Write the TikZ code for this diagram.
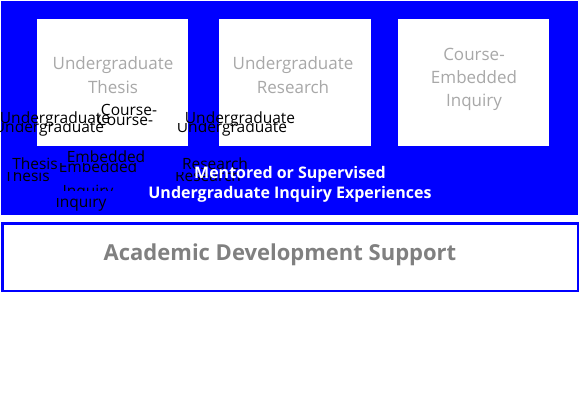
\documentclass[tikz,border=0pt]{standalone}
\usepackage{fontspec}
\setmainfont{Open Sans}
\definecolor{bgblue}{HTML}{0000FF}
\definecolor{lblgray}{HTML}{A8A8A8}
\definecolor{subgray}{HTML}{808080}
\tikzset{
  panel/.style={fill=white, draw=none, inner sep=0pt, outer sep=0pt},
  lbl/.style={font=\fontsize{15.5}{18}\selectfont, text=black, inner sep=0pt, anchor=base},
  boxtxt/.style={font=\fontsize{17}{24}\selectfont, text=lblgray, align=center, inner sep=0pt},
  titletxt/.style={font=\bfseries\fontsize{16}{20}\selectfont, text=white, inner sep=0pt, anchor=base},
}
% #1 name, #2 x, #3 baseline y, #4 shift left of copy b, #5 shift down of copy b, #6 a-clip below baseline, #7 text
\newcommand{\twinlabel}[7]{%
  \begin{scope}
    \clip (#2-90,#3-22) rectangle (#2+90,#3+#6);
    \node[lbl] (#1a) at (#2,#3) {#7};
  \end{scope}
  \begin{scope}
    \clip (#2-90,#3+#5-9) rectangle (#2+90,#3+#5+6);
    \node[lbl] (#1b) at (#2-#4,#3+#5) {#7};
  \end{scope}}
\begin{document}
\begin{tikzpicture}[x=1pt,y=-1pt]
  \useasboundingbox (0,0) rectangle (581,404);
  % outer blue panel
  \node[panel, fill=bgblue, minimum width=577pt, minimum height=214pt] (outer) at (289.5,108) {};
  % three white boxes
  \node[panel, minimum width=151pt, minimum height=127pt] (p1) at (112.5,82.5) {};
  \node[panel, minimum width=152pt, minimum height=127pt] (p2) at (295,82.5) {};
  \node[panel, minimum width=151pt, minimum height=127pt] (p3) at (473.5,82.5) {};
  \node[boxtxt] (t1) at (113,75) {Undergraduate\\Thesis};
  \node[boxtxt] (t2) at (293,75) {Undergraduate\\Research};
  \node[boxtxt, font=\fontsize{17}{23}\selectfont] (t3) at (474,79) {Course-\\Embedded\\Inquiry};
  % overlapping labels
  \twinlabel{ugt}{55}{123}{6}{9}{2}{Undergraduate}
  \twinlabel{thesis}{35}{169}{8}{12}{2}{Thesis}
  \twinlabel{course}{129}{115}{4}{10}{2}{Course-}
  \twinlabel{embedded}{106}{162}{8}{10}{2}{Embedded}
  \twinlabel{inquiry}{88}{196}{7}{11}{-6}{Inquiry}
  \twinlabel{ugr}{240}{123}{8}{9}{2}{Undergraduate}
  \twinlabel{research}{215}{169}{7}{12}{2}{Research}
  % title
  \node[titletxt] (title1) at (290,178) {Mentored or Supervised};
  \node[titletxt] (title2) at (290,198) {Undergraduate Inquiry Experiences};
  % bottom support box
  \node[panel, draw=bgblue, line width=2.5pt, minimum width=575.5pt, minimum height=67.5pt] (support) at (290,257) {};
  \node[font=\bfseries\fontsize{22}{26}\selectfont, text=subgray, inner sep=0pt] (supporttxt) at (280,255) {Academic Development Support};
\end{tikzpicture}
\end{document}
